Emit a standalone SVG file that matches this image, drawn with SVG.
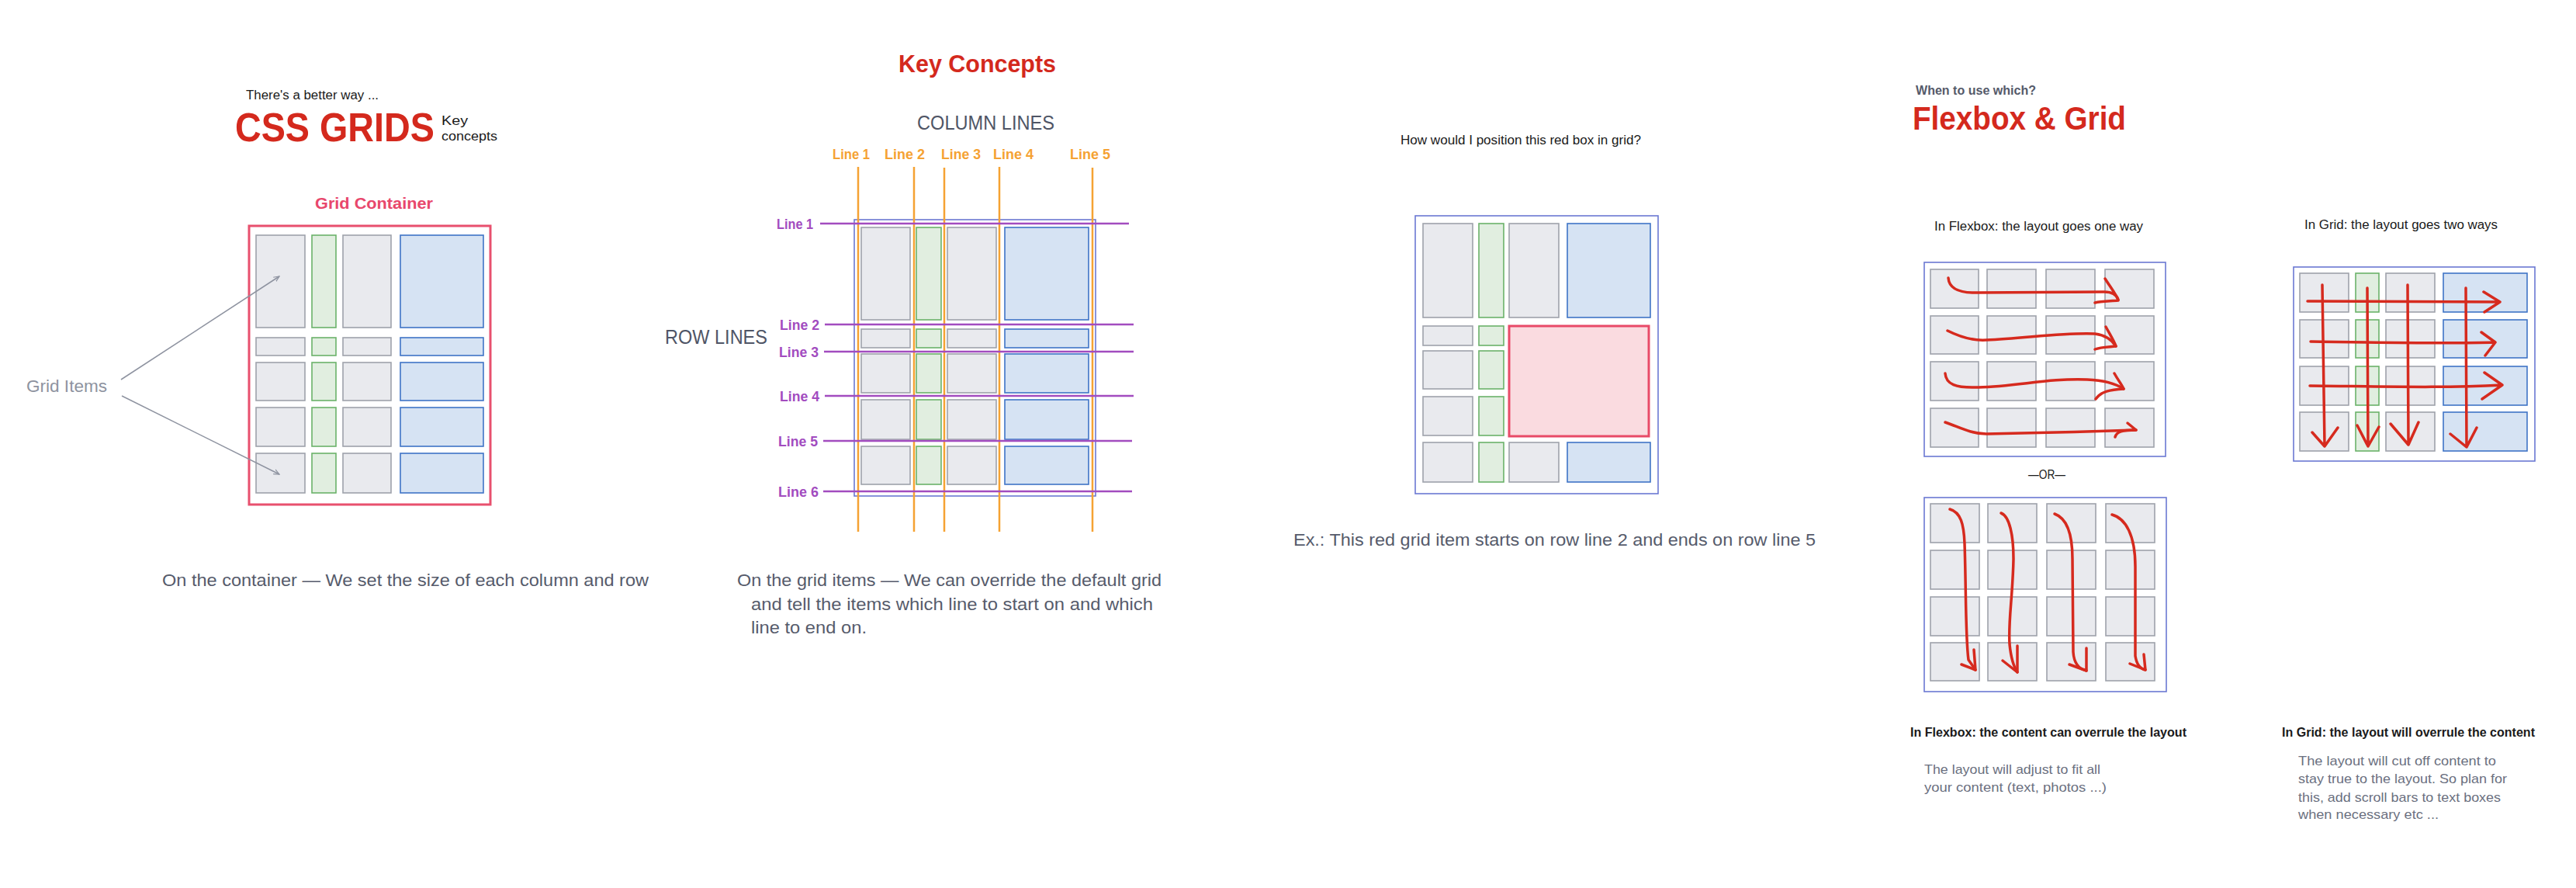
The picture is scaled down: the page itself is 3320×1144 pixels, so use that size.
<svg xmlns="http://www.w3.org/2000/svg" width="3320" height="1144" viewBox="0 0 3320 1144">
<style>
text{font-family:"Liberation Sans",Arial,sans-serif}
.gi{fill:#e9eaee;stroke:#9ea2ab;stroke-width:1.6}
.gg{fill:#e1eee0;stroke:#6bb26a;stroke-width:1.6}
.gb{fill:#d6e3f3;stroke:#3f74c6;stroke-width:1.6}
.gr{fill:#fadbe0;stroke:#e84a68;stroke-width:3}
.ctr{fill:#fff;stroke:#6b78d3;stroke-width:1.6}
.pctr{fill:#fff;stroke:#e8506e;stroke-width:3}
.title{fill:#d4291d;font-weight:bold}
.cap{fill:#565b6b;font-size:22px}
.small{fill:#1a1a1a;font-size:16px}
.note{fill:#6b7080;font-size:17px}
.ol{stroke:#f5a233;stroke-width:2.5}
.ot{fill:#f5a233;font-weight:bold;font-size:19px}
.pl{stroke:#a24cbf;stroke-width:2.5}
.pt{fill:#a24cbf;font-weight:bold;font-size:19px}
.ra{fill:none;stroke:#d62a1e;stroke-width:3.5;stroke-linecap:round;stroke-linejoin:round}
.gl{stroke:#8e93a0;stroke-width:1.5;fill:none}
</style>
<defs>
<marker id="ah" viewBox="0 0 10 10" refX="9" refY="5" markerWidth="8" markerHeight="8" orient="auto-start-reverse" markerUnits="userSpaceOnUse">
<path d="M0,1 L9,5 L0,9" fill="none" stroke="#8e93a0" stroke-width="1.5"/>
</marker>
</defs>
<rect width="3320" height="1144" fill="#fff"/>

<!-- Section 1 -->
<g id="css-grids-title">
<text x="317" y="128" class="small" font-size="17" textLength="171" lengthAdjust="spacingAndGlyphs">There's a better way ...</text>
<text transform="translate(303,182) scale(0.898,1)" x="0" y="0" class="title" font-size="52">CSS GRIDS</text>
<text x="569" y="161" class="small" textLength="34" lengthAdjust="spacingAndGlyphs">Key</text>
<text x="569" y="181" class="small" textLength="72" lengthAdjust="spacingAndGlyphs">concepts</text>
</g>
<g id="grid-container-label">
<text x="406" y="269" fill="#e8476c" font-weight="bold" font-size="21" textLength="152" lengthAdjust="spacingAndGlyphs">Grid Container</text>
</g>
<g id="grid-container-1">
<rect x="321" y="291" width="311" height="359" class="pctr"/>
<rect x="330" y="303" width="63" height="119" class="gi"/><rect x="402" y="303" width="31" height="119" class="gg"/><rect x="442" y="303" width="62" height="119" class="gi"/><rect x="516" y="303" width="107" height="119" class="gb"/>
<rect x="330" y="435" width="63" height="23" class="gi"/><rect x="402" y="435" width="31" height="23" class="gg"/><rect x="442" y="435" width="62" height="23" class="gi"/><rect x="516" y="435" width="107" height="23" class="gb"/>
<rect x="330" y="467" width="63" height="49" class="gi"/><rect x="402" y="467" width="31" height="49" class="gg"/><rect x="442" y="467" width="62" height="49" class="gi"/><rect x="516" y="467" width="107" height="49" class="gb"/>
<rect x="330" y="525" width="63" height="50" class="gi"/><rect x="402" y="525" width="31" height="50" class="gg"/><rect x="442" y="525" width="62" height="50" class="gi"/><rect x="516" y="525" width="107" height="50" class="gb"/>
<rect x="330" y="584" width="63" height="51" class="gi"/><rect x="402" y="584" width="31" height="51" class="gg"/><rect x="442" y="584" width="62" height="51" class="gi"/><rect x="516" y="584" width="107" height="51" class="gb"/>
</g>
<g id="grid-items-label">
<text x="34" y="505" fill="#8e93a0" font-size="22" textLength="104" lengthAdjust="spacingAndGlyphs">Grid Items</text>
</g>
<g id="caption-1">
<text x="209" y="755" class="cap" textLength="627" lengthAdjust="spacingAndGlyphs">On the container — We set the size of each column and row</text>
</g>

<!-- Section 2 -->
<g id="key-concepts-title">
<text x="1158" y="93" class="title" font-size="31" textLength="203" lengthAdjust="spacingAndGlyphs">Key Concepts</text>
</g>
<g id="column-lines-label">
<text x="1182" y="167" fill="#4f5566" font-size="26" textLength="177" lengthAdjust="spacingAndGlyphs">COLUMN LINES</text>
</g>
<g id="row-lines-label">
<text x="857" y="443" fill="#4f5566" font-size="26" textLength="132" lengthAdjust="spacingAndGlyphs">ROW LINES</text>
</g>
<g id="grid-container-2">
<rect x="1101" y="283" width="311" height="356" class="ctr"/>
<rect x="1110" y="293" width="63" height="119" class="gi"/><rect x="1181" y="293" width="32" height="119" class="gg"/><rect x="1221" y="293" width="63" height="119" class="gi"/><rect x="1295" y="293" width="108" height="119" class="gb"/>
<rect x="1110" y="424" width="63" height="24" class="gi"/><rect x="1181" y="424" width="32" height="24" class="gg"/><rect x="1221" y="424" width="63" height="24" class="gi"/><rect x="1295" y="424" width="108" height="24" class="gb"/>
<rect x="1110" y="456" width="63" height="50" class="gi"/><rect x="1181" y="456" width="32" height="50" class="gg"/><rect x="1221" y="456" width="63" height="50" class="gi"/><rect x="1295" y="456" width="108" height="50" class="gb"/>
<rect x="1110" y="515" width="63" height="51" class="gi"/><rect x="1181" y="515" width="32" height="51" class="gg"/><rect x="1221" y="515" width="63" height="51" class="gi"/><rect x="1295" y="515" width="108" height="51" class="gb"/>
<rect x="1110" y="575" width="63" height="49" class="gi"/><rect x="1181" y="575" width="32" height="49" class="gg"/><rect x="1221" y="575" width="63" height="49" class="gi"/><rect x="1295" y="575" width="108" height="49" class="gb"/>
</g>
<g id="column-line-labels">
<text x="1073" y="205" class="ot" textLength="48" lengthAdjust="spacingAndGlyphs">Line 1</text>
<text x="1140" y="205" class="ot" textLength="52" lengthAdjust="spacingAndGlyphs">Line 2</text>
<text x="1213" y="205" class="ot" textLength="51" lengthAdjust="spacingAndGlyphs">Line 3</text>
<text x="1280" y="205" class="ot" textLength="52" lengthAdjust="spacingAndGlyphs">Line 4</text>
<text x="1379" y="205" class="ot" textLength="52" lengthAdjust="spacingAndGlyphs">Line 5</text>
</g>
<g id="row-line-labels">
<text x="1001" y="295" class="pt" textLength="47" lengthAdjust="spacingAndGlyphs">Line 1</text>
<text x="1005" y="425" class="pt" textLength="51" lengthAdjust="spacingAndGlyphs">Line 2</text>
<text x="1004" y="460" class="pt" textLength="51" lengthAdjust="spacingAndGlyphs">Line 3</text>
<text x="1005" y="517" class="pt" textLength="51" lengthAdjust="spacingAndGlyphs">Line 4</text>
<text x="1003" y="575" class="pt" textLength="51" lengthAdjust="spacingAndGlyphs">Line 5</text>
<text x="1003" y="640" class="pt" textLength="52" lengthAdjust="spacingAndGlyphs">Line 6</text>
</g>
<g id="caption-2">
<text x="950" y="755" class="cap" textLength="547" lengthAdjust="spacingAndGlyphs">On the grid items — We can override the default grid</text>
<text x="968" y="786" class="cap" textLength="518" lengthAdjust="spacingAndGlyphs">and tell the items which line to start on and which</text>
<text x="968" y="816" class="cap" textLength="149" lengthAdjust="spacingAndGlyphs">line to end on.</text>
</g>

<!-- Section 3 -->
<g id="question-3">
<text x="1805" y="186" class="small" font-size="17" textLength="310" lengthAdjust="spacingAndGlyphs">How would I position this red box in grid?</text>
</g>
<g id="grid-container-3">
<rect x="1824" y="278" width="313" height="358" class="ctr"/>
<rect x="1834" y="288" width="64" height="121" class="gi"/><rect x="1906" y="288" width="32" height="121" class="gg"/><rect x="1945" y="288" width="64" height="121" class="gi"/><rect x="2020" y="288" width="107" height="121" class="gb"/>
<rect x="1834" y="420" width="64" height="25" class="gi"/><rect x="1906" y="420" width="32" height="25" class="gg"/>
<rect x="1834" y="452" width="64" height="49" class="gi"/><rect x="1906" y="452" width="32" height="49" class="gg"/>
<rect x="1834" y="511" width="64" height="50" class="gi"/><rect x="1906" y="511" width="32" height="50" class="gg"/>
<rect x="1834" y="570" width="64" height="51" class="gi"/><rect x="1906" y="570" width="32" height="51" class="gg"/><rect x="1945" y="570" width="64" height="51" class="gi"/><rect x="2020" y="570" width="107" height="51" class="gb"/>
<rect x="1945" y="420" width="180" height="142" class="gr"/>
</g>
<g id="caption-3">
<text x="1667" y="703" class="cap" textLength="673" lengthAdjust="spacingAndGlyphs">Ex.: This red grid item starts on row line 2 and ends on row line 5</text>
</g>

<!-- Section 4 -->
<g id="flexbox-grid-title">
<text x="2469" y="122" fill="#555a6a" font-weight="bold" font-size="16" textLength="155" lengthAdjust="spacingAndGlyphs">When to use which?</text>
<text x="2465" y="167" class="title" font-size="43" textLength="275" lengthAdjust="spacingAndGlyphs">Flexbox &amp; Grid</text>
</g>
<g id="flexbox-label">
<text x="2493" y="297" class="small" textLength="269" lengthAdjust="spacingAndGlyphs">In Flexbox: the layout goes one way</text>
</g>
<g id="grid-label">
<text x="2970" y="295" class="small" textLength="249" lengthAdjust="spacingAndGlyphs">In Grid: the layout goes two ways</text>
</g>
<g id="flex-rows">
<rect x="2480" y="338" width="311" height="250" class="ctr"/>
<rect x="2488" y="347" width="62" height="50" class="gi"/><rect x="2561" y="347" width="63" height="50" class="gi"/><rect x="2637" y="347" width="63" height="50" class="gi"/><rect x="2713" y="347" width="63" height="50" class="gi"/>
<rect x="2488" y="407" width="62" height="49" class="gi"/><rect x="2561" y="407" width="63" height="49" class="gi"/><rect x="2637" y="407" width="63" height="49" class="gi"/><rect x="2713" y="407" width="63" height="49" class="gi"/>
<rect x="2488" y="466" width="62" height="50" class="gi"/><rect x="2561" y="466" width="63" height="50" class="gi"/><rect x="2637" y="466" width="63" height="50" class="gi"/><rect x="2713" y="466" width="63" height="50" class="gi"/>
<rect x="2488" y="526" width="62" height="50" class="gi"/><rect x="2561" y="526" width="63" height="50" class="gi"/><rect x="2637" y="526" width="63" height="50" class="gi"/><rect x="2713" y="526" width="63" height="50" class="gi"/>
<path class="ra" d="M2511,358 C2512,372 2525,378 2550,377 L2712,376 C2722,376 2728,380 2730,386"/>
<path class="ra" d="M2713,359 C2720,370 2728,380 2730,387 C2720,388 2708,388 2700,390"/>
<path class="ra" d="M2510,426 C2530,436 2545,439 2560,438 C2610,436 2660,428 2700,430 C2715,432 2722,438 2727,446"/>
<path class="ra" d="M2714,421 C2720,432 2725,440 2727,446 C2718,447 2707,447 2700,450"/>
<path class="ra" d="M2507,481 C2508,495 2520,500 2550,499 C2600,498 2640,487 2690,489 C2715,490 2728,495 2737,501"/>
<path class="ra" d="M2725,481 C2730,490 2735,496 2737,501 C2720,502 2708,504 2701,514"/>
<path class="ra" d="M2507,544 C2525,550 2540,559 2560,559 C2620,558 2690,556 2753,554"/>
<path class="ra" d="M2742,545 L2753,554 M2726,563 C2728,556 2735,554 2753,554"/>
</g>
<g id="or-label">
<text x="2614" y="617" class="small" textLength="48" lengthAdjust="spacingAndGlyphs">—OR—</text>
</g>
<g id="flex-columns">
<rect x="2480" y="641" width="312" height="250" class="ctr"/>
<rect x="2488" y="649" width="63" height="50" class="gi"/><rect x="2562" y="649" width="63" height="50" class="gi"/><rect x="2638" y="649" width="63" height="50" class="gi"/><rect x="2714" y="649" width="63" height="50" class="gi"/>
<rect x="2488" y="709" width="63" height="50" class="gi"/><rect x="2562" y="709" width="63" height="50" class="gi"/><rect x="2638" y="709" width="63" height="50" class="gi"/><rect x="2714" y="709" width="63" height="50" class="gi"/>
<rect x="2488" y="769" width="63" height="50" class="gi"/><rect x="2562" y="769" width="63" height="50" class="gi"/><rect x="2638" y="769" width="63" height="50" class="gi"/><rect x="2714" y="769" width="63" height="50" class="gi"/>
<rect x="2488" y="828" width="63" height="49" class="gi"/><rect x="2562" y="828" width="63" height="49" class="gi"/><rect x="2638" y="828" width="63" height="49" class="gi"/><rect x="2714" y="828" width="63" height="49" class="gi"/>
<path class="ra" d="M2513,656 C2527,660 2531,675 2532,700 C2534,760 2533,820 2537,850 L2546,863"/>
<path class="ra" d="M2528,856 L2546,863 L2544,837"/>
<path class="ra" d="M2579,661 C2590,665 2595,690 2595,720 C2594,770 2588,800 2590,830 C2592,850 2596,860 2600,866"/>
<path class="ra" d="M2581,851 L2600,866 L2600,832"/>
<path class="ra" d="M2648,662 C2665,668 2671,690 2671,720 L2672,840 C2673,855 2680,862 2689,864"/>
<path class="ra" d="M2667,856 L2689,864 L2689,835"/>
<path class="ra" d="M2722,663 C2740,668 2752,690 2752,730 L2752,845 C2754,858 2760,862 2765,863"/>
<path class="ra" d="M2745,855 L2765,863 L2763,843"/>
</g>
<g id="grid-two-ways">
<rect x="2956" y="344" width="311" height="250" class="ctr"/>
<rect x="2964" y="352" width="63" height="50" class="gi"/><rect x="3036" y="352" width="30" height="50" class="gg"/><rect x="3075" y="352" width="63" height="50" class="gi"/><rect x="3149" y="352" width="108" height="50" class="gb"/>
<rect x="2964" y="412" width="63" height="49" class="gi"/><rect x="3036" y="412" width="30" height="49" class="gg"/><rect x="3075" y="412" width="63" height="49" class="gi"/><rect x="3149" y="412" width="108" height="49" class="gb"/>
<rect x="2964" y="472" width="63" height="50" class="gi"/><rect x="3036" y="472" width="30" height="50" class="gg"/><rect x="3075" y="472" width="63" height="50" class="gi"/><rect x="3149" y="472" width="108" height="50" class="gb"/>
<rect x="2964" y="531" width="63" height="50" class="gi"/><rect x="3036" y="531" width="30" height="50" class="gg"/><rect x="3075" y="531" width="63" height="50" class="gi"/><rect x="3149" y="531" width="108" height="50" class="gb"/>
<path class="ra" d="M2974,388 L3222,389 M3201,376 L3222,389 L3202,402"/>
<path class="ra" d="M2978,440 C3050,441 3150,443 3216,441 M3198,428 L3216,441 L3203,458"/>
<path class="ra" d="M2977,497 C3080,498 3150,500 3225,496 M3202,480 L3225,496 L3199,514"/>
<path class="ra" d="M2993,367 L2996,575 M2980,557 L2996,575 L3013,551"/>
<path class="ra" d="M3051,371 L3052,575 M3038,548 L3052,575 L3066,550"/>
<path class="ra" d="M3103,367 L3104,573 M3081,546 L3104,573 L3117,544"/>
<path class="ra" d="M3178,371 L3179,576 M3158,559 L3179,576 L3192,551"/>
</g>
<g id="flex-caption">
<text x="2462" y="949" fill="#1a1a1a" font-weight="bold" font-size="16" textLength="356" lengthAdjust="spacingAndGlyphs">In Flexbox: the content can overrule the layout</text>
<text x="2480" y="997" class="note" textLength="227" lengthAdjust="spacingAndGlyphs">The layout will adjust to fit all</text>
<text x="2480" y="1020" class="note" textLength="235" lengthAdjust="spacingAndGlyphs">your content (text, photos ...)</text>
</g>
<g id="grid-caption">
<text x="2941" y="949" fill="#1a1a1a" font-weight="bold" font-size="16" textLength="326" lengthAdjust="spacingAndGlyphs">In Grid: the layout will overrule the content</text>
<text x="2962" y="986" class="note" textLength="255" lengthAdjust="spacingAndGlyphs">The layout will cut off content to</text>
<text x="2962" y="1009" class="note" textLength="269" lengthAdjust="spacingAndGlyphs">stay true to the layout. So plan for</text>
<text x="2962" y="1033" class="note" textLength="261" lengthAdjust="spacingAndGlyphs">this, add scroll bars to text boxes</text>
<text x="2962" y="1055" class="note" textLength="181" lengthAdjust="spacingAndGlyphs">when necessary etc ...</text>
</g>

<g id="connectors">
<line x1="156" y1="489" x2="360" y2="356" class="gl" marker-end="url(#ah)"/>
<line x1="157" y1="510" x2="360" y2="611" class="gl" marker-end="url(#ah)"/>
<g id="column-lines">
<line x1="1106" y1="215" x2="1106" y2="685" class="ol"/>
<line x1="1178" y1="215" x2="1178" y2="685" class="ol"/>
<line x1="1217" y1="216" x2="1217" y2="685" class="ol"/>
<line x1="1288" y1="215" x2="1288" y2="685" class="ol"/>
<line x1="1408" y1="216" x2="1408" y2="685" class="ol"/>
</g>
<g id="row-lines">
<line x1="1057" y1="288" x2="1455" y2="288" class="pl"/>
<line x1="1063" y1="418" x2="1461" y2="418" class="pl"/>
<line x1="1062" y1="453" x2="1461" y2="453" class="pl"/>
<line x1="1063" y1="510" x2="1461" y2="510" class="pl"/>
<line x1="1061" y1="568" x2="1459" y2="568" class="pl"/>
<line x1="1061" y1="633" x2="1459" y2="633" class="pl"/>
</g>
</g>
</svg>
